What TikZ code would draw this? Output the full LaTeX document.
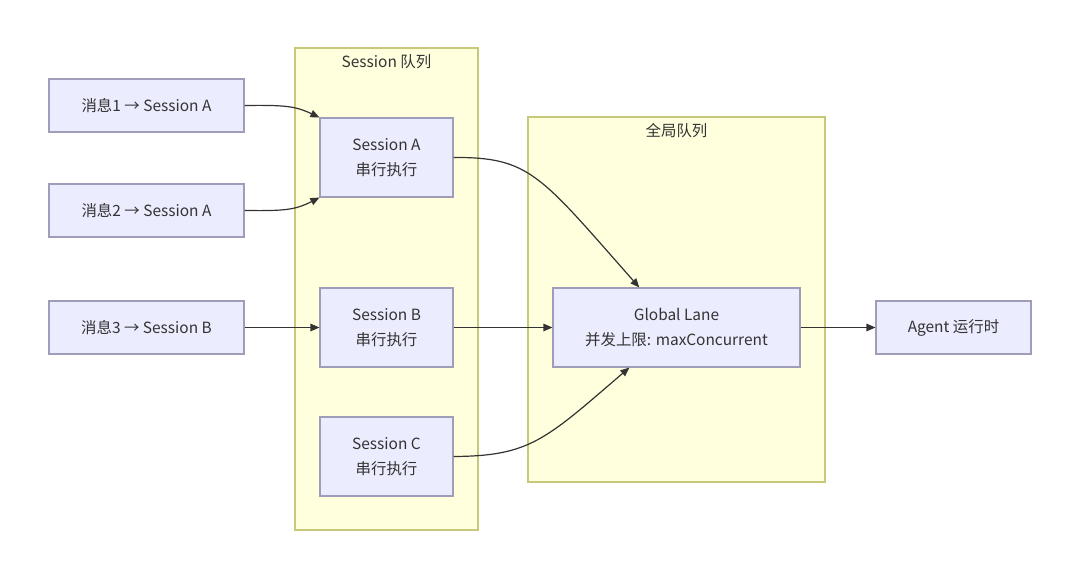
\documentclass[tikz,border=0pt]{standalone}
\usepackage{fontspec}
\setmainfont{Noto Sans CJK SC}
\usetikzlibrary{arrows.meta,calc}
\definecolor{nodefill}{HTML}{ECECFF}
\definecolor{nodeline}{HTML}{A09DBA}
\definecolor{clfill}{HTML}{FFFFDE}
\definecolor{clline}{HTML}{C8C87A}
\definecolor{edge}{HTML}{333333}
\definecolor{txt}{HTML}{333333}
\tikzset{
  box/.style={draw=nodeline, fill=nodefill, line width=1.1bp, inner sep=0pt, align=center,
    text=txt, font=\fontsize{15.5}{24.5}\selectfont},
  cluster/.style={draw=clline, fill=clfill, line width=1.1bp},
  cltitle/.style={text=txt, font=\fontsize{15.5}{18}\selectfont, anchor=center},
  conn/.style={draw=edge, line width=1.2bp, -{Triangle[length=9bp,width=7.5bp]}},
}
\begin{document}
\begin{tikzpicture}[x=1bp,y=-1bp]
\useasboundingbox[fill=white] (0,0) rectangle (1080,580);
% clusters
\path[cluster] (295,48) rectangle (478,530);
\node[cltitle] (t1) at (386.5,62) {Session 队列};
\path[cluster] (528,117) rectangle (825,482);
\node[cltitle] (t2) at (676.5,131) {全局队列};
% nodes
\node[box, minimum width=195bp, minimum height=53bp] (m1) at (146.5,105.5) {消息1 → Session A};
\node[box, minimum width=195bp, minimum height=53bp] (m2) at (146.5,210.5) {消息2 → Session A};
\node[box, minimum width=195bp, minimum height=53bp] (m3) at (146.5,327.5) {消息3 → Session B};
\node[box, minimum width=133bp, minimum height=79bp] (sa) at (386.5,157.5) {Session A\\串行执行};
\node[box, minimum width=133bp, minimum height=79bp] (sb) at (386.5,327.5) {Session B\\串行执行};
\node[box, minimum width=133bp, minimum height=79bp] (sc) at (386.5,456.5) {Session C\\串行执行};
\node[box, minimum width=247bp, minimum height=79bp] (gl) at (676.5,327.5) {Global Lane\\并发上限: maxConcurrent};
\node[box, minimum width=155bp, minimum height=53bp] (ag) at (953.5,327.5) {Agent 运行时};
% anchors for curved edges
\coordinate (glt) at ($(gl.north west)!0.35!(gl.north east)$);
\coordinate (glb) at ($(gl.south west)!0.31!(gl.south east)$);
% edges
\draw[conn] (m1.east) .. controls (285,105) and (295,106) .. (sa.north west);
\draw[conn] (m2.east) .. controls (285,211) and (295,210) .. (sa.south west);
\draw[conn] (m3) -- (sb);
\draw[conn] (sa.east) .. controls (530,157) and (540,175) .. (glt);
\draw[conn] (sb) -- (gl);
\draw[conn] (sc.east) .. controls (530,456) and (545,440) .. (glb);
\draw[conn] (gl) -- (ag);
\end{tikzpicture}
\end{document}
